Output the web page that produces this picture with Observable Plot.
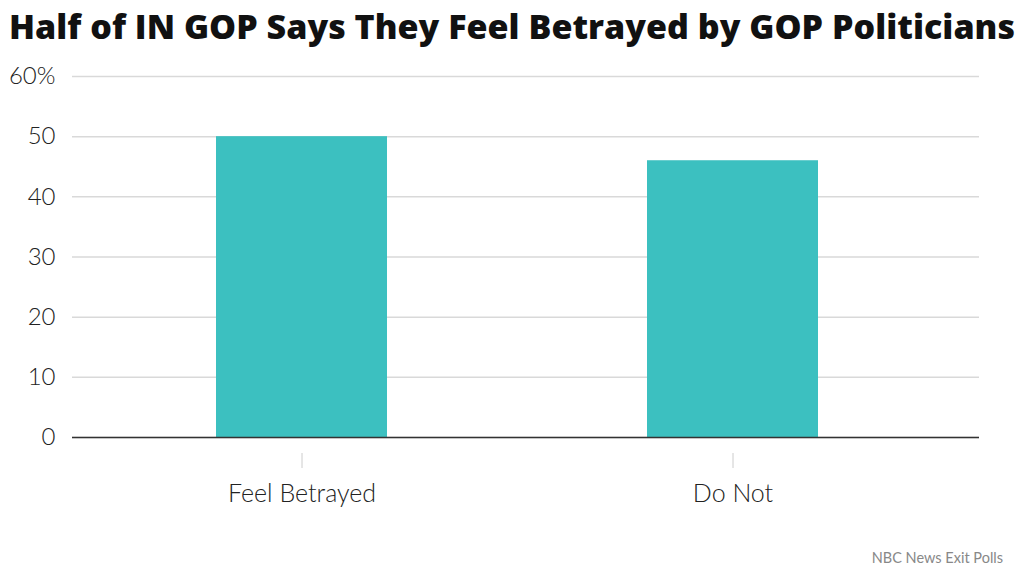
<!DOCTYPE html>
<html>
<head>
<meta charset="utf-8">
<script src="https://cdn.jsdelivr.net/npm/d3@7"></script>
<script src="https://cdn.jsdelivr.net/npm/@observablehq/plot@0.6"></script>
<style>
  html, body { margin: 0; padding: 0; background: #fff; width: 1023px; height: 569px; overflow: hidden; }
  #title { font-family: "Open Sans", Lato, sans-serif; font-weight: 800; font-size: 34px; color: #111;
           position: absolute; left: 9px; top: 3px; white-space: nowrap; }
  #chart { position: absolute; left: 0; top: 60px; }
  #caption { font-family: Lato, "Noto Sans", sans-serif; font-size: 14.5px; color: #888;
             position: absolute; right: 20px; top: 549px; }
</style>
</head>
<body>
<div id="title">Half of IN GOP Says They Feel Betrayed by GOP Politicians</div>
<div id="chart"></div>
<div id="caption">NBC News Exit Polls</div>
<script>
const categories = ["Feel Betrayed", "Do Not"];
const values = [50, 46];
const yTicks = [0, 10, 20, 30, 40, 50, 60];

const data = categories.map((c, i) => ({category: c, value: values[i]}));

const chart = Plot.plot({
  width: 1023,
  height: 470,
  marginTop: 16,
  marginBottom: 93,
  marginLeft: 72,
  marginRight: 44,
  style: {fontFamily: "Lato, 'Noto Sans', sans-serif", fontSize: "24px", color: "#222", background: "#fff"},
  x: {domain: categories, paddingInner: 0.604, paddingOuter: 0.353, align: 0.472, label: null},
  y: {domain: [0, 60], ticks: yTicks, label: null},
  marks: [
    Plot.gridY(yTicks, {stroke: "#d9d9d9", strokeOpacity: 1, strokeWidth: 1.5}),
    Plot.barY(data, {x: "category", y: "value", fill: "#3cc0c0"}),
    Plot.ruleY([0], {stroke: "#333", strokeWidth: 1.5}),
    Plot.axisY(yTicks, {tickSize: 0, tickPadding: 17, fontSize: 24, fontWeight: 300, fill: "#222",
      tickFormat: d => d === 60 ? "60%" : String(d)}),
    Plot.axisX({tickSize: 15, dy: 16, tickPadding: 16, fontSize: 25, fontWeight: 300, fill: "#222", stroke: "#ccc"})
  ]
});
document.getElementById("chart").appendChild(chart);

// fit title width to the reference span
const t = document.getElementById("title");
const target = 1006;
const n = t.textContent.length;
const w = t.getBoundingClientRect().width;
t.style.letterSpacing = ((target - w) / n) + "px";
</script>
</body>
</html>
